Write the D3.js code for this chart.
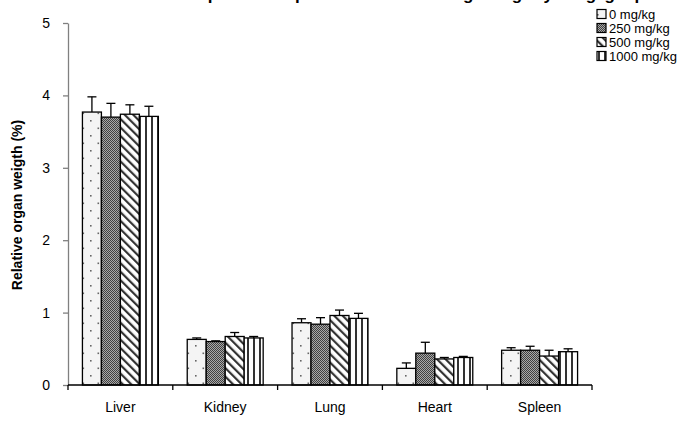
<!DOCTYPE html>
<html>
<head>
<meta charset="utf-8">
<script src="https://cdn.jsdelivr.net/npm/d3@7"></script>
<style>
  html, body { margin: 0; padding: 0; background: #fff; }
  svg { display: block; font-family: "Liberation Sans", Arial, sans-serif; }
</style>
</head>
<body>
<svg id="chart" width="691" height="422"></svg>
<script>
// Organ groups and dose groups
const organs = ["Liver", "Kidney", "Lung", "Heart", "Spleen"];
const doses = ["0 mg/kg", "250 mg/kg", "500 mg/kg", "1000 mg/kg"];

// Mean relative organ weight (%) per dose group, in organ order
const dose0    = [3.77, 0.63, 0.86, 0.23, 0.48];
const dose250  = [3.70, 0.60, 0.84, 0.44, 0.48];
const dose500  = [3.74, 0.67, 0.96, 0.36, 0.40];
const dose1000 = [3.71, 0.65, 0.92, 0.38, 0.46];

// Standard deviations (upper error bars)
const sd0    = [0.21, 0.02, 0.055, 0.075, 0.035];
const sd250  = [0.19, 0.01, 0.09, 0.15, 0.055];
const sd500  = [0.13, 0.055, 0.075, 0.02, 0.08];
const sd1000 = [0.14, 0.02, 0.07, 0.015, 0.04];

const yTicks = [0, 1, 2, 3, 4, 5];

const means = [dose0, dose250, dose500, dose1000];
const sds = [sd0, sd250, sd500, sd1000];

const svg = d3.select("#chart");
const plotLeft = 68, plotRight = 592, plotTop = 23, plotBottom = 385;

// Fill patterns for each dose group
const defs = svg.append("defs");

const pDots = defs.append("pattern").attr("id", "p0")
  .attr("patternUnits", "userSpaceOnUse").attr("width", 15).attr("height", 15);
pDots.append("rect").attr("width", 15).attr("height", 15).attr("fill", "#f4f4f4");
pDots.append("rect").attr("x", 0).attr("y", 0).attr("width", 1.6).attr("height", 1.6).attr("fill", "#666");
pDots.append("rect").attr("x", 7.5).attr("y", 7.5).attr("width", 1.6).attr("height", 1.6).attr("fill", "#666");

const pCheck = defs.append("pattern").attr("id", "p1")
  .attr("patternUnits", "userSpaceOnUse").attr("width", 2).attr("height", 2);
pCheck.append("rect").attr("width", 2).attr("height", 2).attr("fill", "#a8a8a8");
pCheck.append("rect").attr("x", 0).attr("y", 0).attr("width", 1).attr("height", 1).attr("fill", "#404040");
pCheck.append("rect").attr("x", 1).attr("y", 1).attr("width", 1).attr("height", 1).attr("fill", "#404040");

const pDiag = defs.append("pattern").attr("id", "p2")
  .attr("patternUnits", "userSpaceOnUse").attr("width", 6).attr("height", 6)
  .attr("patternTransform", "rotate(-45)");
pDiag.append("rect").attr("width", 6).attr("height", 6).attr("fill", "#fff");
pDiag.append("rect").attr("x", 0).attr("y", 0).attr("width", 2.2).attr("height", 6).attr("fill", "#333");

const pVert = defs.append("pattern").attr("id", "p3")
  .attr("patternUnits", "userSpaceOnUse").attr("width", 6).attr("height", 6);
pVert.append("rect").attr("width", 6).attr("height", 6).attr("fill", "#fff");
pVert.append("rect").attr("x", 1).attr("y", 0).attr("width", 2).attr("height", 6).attr("fill", "#333");

const fills = ["url(#p0)", "url(#p1)", "url(#p2)", "url(#p3)"];

// Scales
const x = d3.scaleBand().domain(organs).range([plotLeft, plotRight]).padding(0);
const inner = d3.scaleBand().domain(d3.range(doses.length))
  .range([0, x.bandwidth()]).paddingInner(0).paddingOuter(0.76);
const y = d3.scaleLinear().domain([0, 5]).range([plotBottom, plotTop]);

// Title (sits above the top edge of the canvas)
svg.append("text")
  .attr("x", 190).attr("y", 0)
  .attr("text-anchor", "start")
  .attr("font-size", 17).attr("font-weight", "bold")
  .attr("textLength", 455).attr("lengthAdjust", "spacing")
  .text("Repeated oral exposure: effect on relative organ weight by dosage group");

// Bars with upper error bars
const g = svg.append("g");
organs.forEach((org, i) => {
  means.forEach((arr, s) => {
    const bx = x(org) + inner(s);
    const bw = inner.bandwidth();
    const v = arr[i], e = sds[s][i];
    const cx = bx + bw / 2;
    g.append("line")
      .attr("x1", cx).attr("x2", cx)
      .attr("y1", y(v)).attr("y2", y(v + e))
      .attr("stroke", "#000").attr("stroke-width", 1.3);
    g.append("line")
      .attr("x1", cx - 4.5).attr("x2", cx + 4.5)
      .attr("y1", y(v + e)).attr("y2", y(v + e))
      .attr("stroke", "#000").attr("stroke-width", 1.3);
    g.append("rect")
      .attr("x", bx).attr("y", y(v))
      .attr("width", bw).attr("height", y(0) - y(v))
      .attr("fill", fills[s])
      .attr("stroke", "#000").attr("stroke-width", 1.3);
  });
});

// Y axis
const yAxis = svg.append("g")
  .attr("transform", `translate(${plotLeft},0)`)
  .call(d3.axisLeft(y).tickValues(yTicks).tickFormat(d3.format("d")).tickSize(5).tickSizeOuter(0));
yAxis.select(".domain").attr("stroke", "#808080").attr("stroke-width", 1.3);
yAxis.selectAll(".tick line").attr("stroke", "#808080").attr("stroke-width", 1.3);
yAxis.selectAll(".tick text").attr("font-size", 14).attr("fill", "#000")
  .attr("font-family", "Liberation Sans, Arial, sans-serif").attr("dx", "-10");

// X axis with ticks between categories
const xAxis = svg.append("g").attr("transform", `translate(0,${plotBottom})`);
xAxis.append("line").attr("x1", plotLeft).attr("x2", plotRight).attr("y1", 0).attr("y2", 0)
  .attr("stroke", "#000").attr("stroke-width", 1.3);
const bounds = organs.map(o => x(o)).concat([x(organs[organs.length - 1]) + x.bandwidth()]);
xAxis.selectAll(".xt").data(bounds).join("line")
  .attr("x1", d => d).attr("x2", d => d).attr("y1", 0).attr("y2", 5)
  .attr("stroke", "#000").attr("stroke-width", 1.3);
xAxis.selectAll(".xl").data(organs).join("text")
  .attr("x", d => x(d) + x.bandwidth() / 2).attr("y", 27)
  .attr("text-anchor", "middle").attr("font-size", 14)
  .text(d => d);

// Y axis title
svg.append("text")
  .attr("transform", `translate(22,205) rotate(-90)`)
  .attr("text-anchor", "middle")
  .attr("font-size", 14).attr("font-weight", "bold")
  .text("Relative organ weigth (%)");

// Legend
const legend = svg.append("g").attr("transform", "translate(597,14)");
doses.forEach((d, s) => {
  const row = legend.append("g").attr("transform", `translate(0,${s * 14})`);
  row.append("rect").attr("x", 0).attr("y", -4.5).attr("width", 9).attr("height", 9)
    .attr("fill", fills[s]).attr("stroke", "#000").attr("stroke-width", 1.2);
  row.append("text").attr("x", 12).attr("y", 5).attr("font-size", 13).text(d);
});
</script>
</body>
</html>
